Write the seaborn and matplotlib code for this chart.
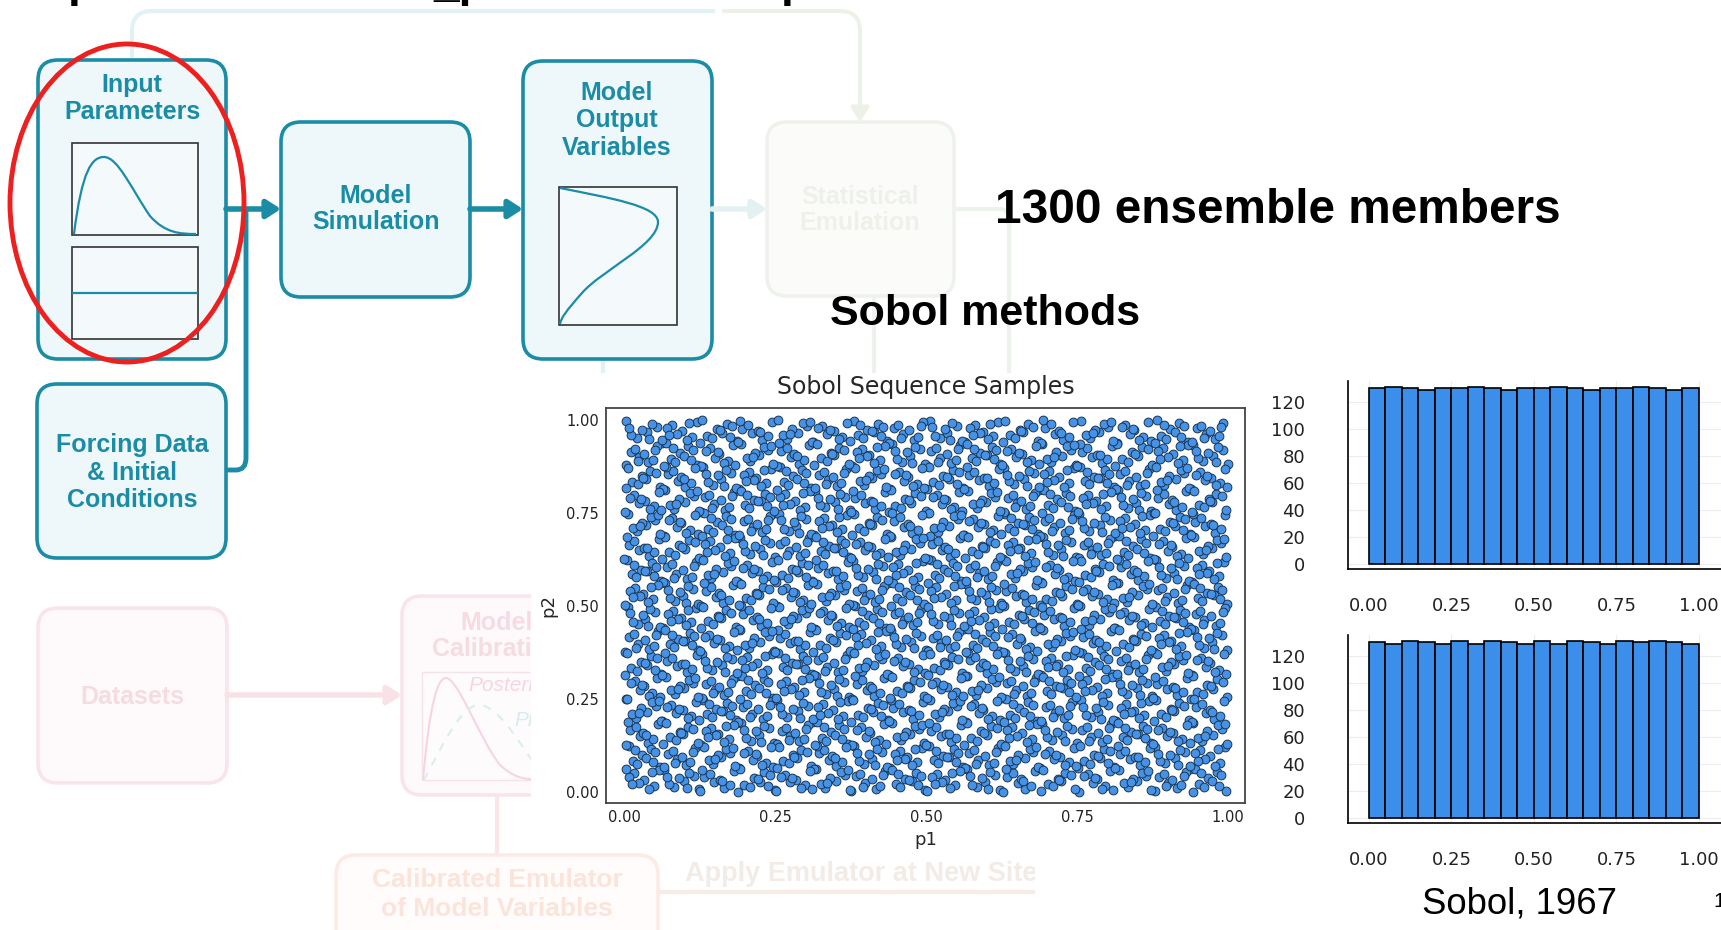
import numpy as np
import pandas as pd
import matplotlib
matplotlib.use("Agg")
import matplotlib.pyplot as plt
import seaborn as sns
from matplotlib.patches import FancyBboxPatch, Rectangle, Ellipse, PathPatch
from matplotlib.path import Path

# ---------------- data ----------------
N_SAMPLES = 2600                     # number of Sobol points shown (20 bins x ~130)
N_BINS = 20
hist_p1_counts = [130, 131, 130, 129, 130, 130, 131, 130, 129, 130,
                  130, 131, 130, 129, 130, 130, 131, 130, 129, 130]
hist_p2_counts = [130, 129, 131, 130, 129, 131, 129, 131, 130, 129,
                  131, 129, 131, 130, 129, 131, 130, 131, 130, 129]
hist_xticks = [0.00, 0.25, 0.50, 0.75, 1.00]
hist_yticks = [0, 20, 40, 60, 80, 100, 120]
scatter_ticks = [0.00, 0.25, 0.50, 0.75, 1.00]
scatter_title = "Sobol Sequence Samples"


def sobol_2d(n):
    """Plain (unscrambled) 2-D Sobol sequence, Gray-code order."""
    bits = 32
    v1 = [1 << (bits - 1 - k) for k in range(bits)]
    v2 = [1 << (bits - 1)]
    for _ in range(1, bits):
        v2.append(v2[-1] ^ (v2[-1] >> 1))
    x = y = 0
    pts = []
    for i in range(n):
        c, j = 0, i
        while j & 1:
            j >>= 1
            c += 1
        x ^= v1[c]
        y ^= v2[c]
        pts.append((x / 2.0 ** 32, y / 2.0 ** 32))
    return np.array(pts)


pts = sobol_2d(N_SAMPLES)
df_pts = pd.DataFrame({"p1": pts[:, 0], "p2": pts[:, 1]})
edges = np.linspace(0, 1, N_BINS + 1)
centers = (edges[:-1] + edges[1:]) / 2

# ---------------- style ----------------
sns.set_theme(style="white")
plt.rcParams["font.family"] = ["DejaVu Sans"]
TF = ["Liberation Sans", "DejaVu Sans"]

W, H = 1721, 930
fig = plt.figure(figsize=(W / 100, H / 100), dpi=100)
fig.patch.set_facecolor("white")
bg = fig.add_axes([0, 0, 1, 1])
bg.set_xlim(0, W)
bg.set_ylim(H, 0)
bg.axis("off")

TEAL = "#1a8ca6"
TEAL_FILL = "#eef7f9"
DIAG_FS = 18


def rbox(x0, y0, x1, y1, ec, fc, lw=2.6, r=20, z=2):
    bg.add_patch(FancyBboxPatch((x0, y0), x1 - x0, y1 - y0,
                                boxstyle=f"round,pad=0,rounding_size={r}",
                                ec=ec, fc=fc, lw=lw, zorder=z))


def label(x, baselines, lines, color, fs=DIAG_FS, ha="center", **kw):
    for yb, s in zip(baselines, lines):
        bg.text(x, yb, s, color=color, fontsize=fs, ha=ha, va="baseline",
                family=TF, fontweight="bold", zorder=6, **kw)


def poly(verts, codes, color, lw=3, z=1, **kw):
    bg.add_patch(PathPatch(Path(verts, codes), fc="none", ec=color, lw=lw,
                           zorder=z, capstyle="butt", **kw))


def arrow(x0, y0, x1, y1, color, lw=4, z=3):
    bg.annotate("", xy=(x1, y1), xytext=(x0, y0),
                arrowprops=dict(arrowstyle="-|>,head_length=0.7,head_width=0.45",
                                lw=lw, color=color, shrinkA=0, shrinkB=0),
                zorder=z)


M, L, C3 = Path.MOVETO, Path.LINETO, Path.CURVE3
C4 = Path.CURVE4

# top connector (faint)
poly([(132, 60), (132, 31), (132, 11), (152, 11), (715, 11)], [M, L, C3, C3, L], "#e2f1f5")
poly([(722, 11), (840, 11), (860, 11), (860, 31), (860, 110)], [M, L, C3, C3, L], "#edf2e8")
arrow(860, 100, 860, 122, "#edf2e8", lw=3)

# main (teal) boxes
rbox(38, 60, 226, 359, TEAL, TEAL_FILL)
label(132, [92, 119], ["Input", "Parameters"], TEAL)
bg.add_patch(Rectangle((72, 143), 126, 92, ec="#333333", fc="#f4fafb", lw=1.2, zorder=3))
bg.add_patch(Rectangle((72, 247), 126, 92, ec="#333333", fc="#f4fafb", lw=1.2, zorder=3))
poly([(74, 234), (82, 170), (92, 157), (104, 157), (118, 157), (132, 190), (150, 216),
      (165, 233), (180, 234), (196, 234)],
     [M, C4, C4, C4, C4, C4, C4, C4, C4, C4], TEAL, lw=1.6, z=4)
poly([(72, 293), (198, 293)], [M, L], TEAL, lw=1.6, z=4)

rbox(281, 122, 470, 297, TEAL, TEAL_FILL)
label(376, [203, 229], ["Model", "Simulation"], TEAL)

rbox(523, 61, 712, 359, TEAL, TEAL_FILL)
label(617, [100, 127.5, 155], ["Model", "Output", "Variables"], TEAL)
bg.add_patch(Rectangle((559, 187), 118, 138, ec="#333333", fc="#f4fafb", lw=1.2, zorder=3))
poly([(560, 188), (610, 198), (658, 206), (658, 222), (658, 245), (602, 270), (582, 293),
      (566, 311), (561, 318), (560, 324)],
     [M, C4, C4, C4, C4, C4, C4, C4, C4, C4], TEAL, lw=1.6, z=4)

rbox(37, 384, 226, 558, TEAL, TEAL_FILL)
label(132, [452, 479.5, 507], ["Forcing Data", "& Initial", "Conditions"], TEAL)
poly([(226, 470), (236, 470), (246, 470), (246, 458), (246, 209)], [M, L, C3, C3, L], TEAL, lw=3.5, z=1)

arrow(226, 209, 281, 209, TEAL)
arrow(470, 209, 523, 209, TEAL)

# red highlight ellipse
bg.add_patch(Ellipse((127, 203), 234, 318, ec="#ee1f1f", fc="none", lw=3.5, zorder=7))

# faint statistical emulation
FAINT_G = "#eef2ec"
arrow(712, 209, 767, 209, "#e3f1f3", lw=4)
poly([(603, 359), (603, 373)], [M, L], "#e3f1f3", lw=3)
rbox(767, 122, 954, 296, FAINT_G, "#fbfcfa")
label(860, [204, 230], ["Statistical", "Emulation"], "#edf1ea")
poly([(954, 209), (999, 209), (1009, 209), (1009, 219), (1009, 380)], [M, L, C3, C3, L], FAINT_G)
poly([(874, 296), (874, 380)], [M, L], FAINT_G)

# faint pink calibration block
PINK_E = "#f9e4e9"
rbox(38, 608, 227, 783, PINK_E, "#fefafb")
label(132, [704], ["Datasets"], "#f6dbe2")
arrow(227, 695, 402, 695, "#f8e2e7", lw=4)
rbox(402, 596, 591, 795, PINK_E, "#fefafb")
label(497, [630, 656], ["Model", "Calibration"], "#f6dbe2")
bg.add_patch(Rectangle((422, 672), 149, 108, ec="#f5e3e7", fc="#fefbfc", lw=1.0, zorder=3))
poly([(423, 780), (430, 700), (438, 678), (446, 678), (458, 678), (480, 740), (500, 765),
      (512, 776), (522, 779), (531, 779)],
     [M, C4, C4, C4, C4, C4, C4, C4, C4, C4], "#f6d6de", lw=1.5, z=4)
poly([(424, 780), (445, 740), (462, 705), (479, 705), (496, 705), (515, 735), (535, 765)],
     [M, C4, C4, C4, C4, C4, C4], "#dcedf1", lw=1.5, z=4, ls=(0, (4, 4)))
bg.text(468, 691, "Posterior", color="#f6d6de", fontsize=15, style="italic", family=TF,
        va="baseline", zorder=6)
bg.text(514, 726, "Prior", color="#d6ecf2", fontsize=15, style="italic", family=TF,
        va="baseline", zorder=6)
poly([(497, 795), (497, 855)], [M, L], "#f9e6e8", lw=3)

# faint calibrated emulator block
rbox(336, 855, 658, 975, "#fcebe4", "#fffcfb")
label(497, [887, 916], ["Calibrated Emulator", "of Model Variables"], "#fbe4da", fs=19)
poly([(658, 892), (1040, 892)], [M, L], "#f7ebe6", lw=3)
label(685, [881], ["Apply Emulator at New Sites"], "#f3ebe5", fs=19.5, ha="left")

# white backgrounds of pasted figures
bg.add_patch(Rectangle((531, 373), W - 531, 852 - 373, fc="white", ec="none", zorder=20))
bg.add_patch(Rectangle((1035, 373), W - 1035, H - 373, fc="white", ec="none", zorder=20))

# top-cut title descenders
for xx, s in [(68, "p"), (433, "_p"), (781, "p")]:
    bg.text(xx, -3.5, s, fontsize=33, fontweight="bold", family=TF, color="black",
            ha="left", va="baseline", zorder=30)

# slide texts
bg.text(995, 223, "1300 ensemble members", fontsize=34.4, fontweight="bold", family=TF,
        color="black", ha="left", va="baseline", zorder=30)
bg.text(830, 325, "Sobol methods", fontsize=31, fontweight="bold", family=TF,
        color="black", ha="left", va="baseline", zorder=30)
bg.text(1520, 913, "Sobol, 1967", fontsize=26.3, family=TF, color="black",
        ha="center", va="baseline", zorder=30)
bg.text(1713, 907, "1", fontsize=15, family=TF, color="black",
        ha="left", va="baseline", zorder=30)

# ---------------- scatter ----------------
ax = fig.add_axes([606 / W, 1 - 803 / H, (1245 - 606) / W, (803 - 408) / H])
sns.scatterplot(data=df_pts, x="p1", y="p2", s=40, color="#4592e6",
                edgecolor="#1b3552", linewidth=0.7, ax=ax, zorder=3)
ax.set_xlim(-0.03, 1.028)
ax.set_ylim(-0.0296, 1.032)
ax.set_xticks(scatter_ticks)
ax.set_yticks(scatter_ticks)
ax.set_xticklabels([f"{t:.2f}" for t in scatter_ticks])
ax.set_yticklabels([f"{t:.2f}" for t in scatter_ticks])
ax.tick_params(direction="in", length=4, width=1, labelsize=10.5, colors="#222222", pad=5)
ax.set_xlabel("p1", fontsize=13, labelpad=4)
ax.set_ylabel("p2", fontsize=13, labelpad=6)
ax.set_title(scatter_title, fontsize=17, pad=10)
for sp in ax.spines.values():
    sp.set_visible(True)
    sp.set_color("#444444")
    sp.set_linewidth(1.3)


# ---------------- histograms ----------------
def hist_axes(y_top, y_bot, counts):
    a = fig.add_axes([1348 / W, 1 - y_bot / H, (W - 1348) / W, (y_bot - y_top) / H])
    dfh = pd.DataFrame({"bin": centers, "count": np.asarray(counts, dtype=float)})
    sns.histplot(data=dfh, x="bin", weights="count", bins=N_BINS, binrange=(0, 1),
                 color="#3b8eea", alpha=1, edgecolor="black", linewidth=1.2, ax=a)
    a.set_xlim(-0.0636, 1.067)
    a.set_ylim(-3.4, 135.3)
    a.set_xticks(hist_xticks)
    a.set_yticks(hist_yticks)
    a.set_xticklabels([f"{t:.2f}" for t in hist_xticks])
    a.set_xlabel("")
    a.set_ylabel("")
    a.grid(True, color="black", alpha=0.07, lw=0.8)
    a.set_axisbelow(True)
    a.tick_params(axis="y", direction="in", length=8, width=1, colors="#555555",
                  labelcolor="#222222", labelsize=13, pad=31)
    a.tick_params(axis="x", direction="in", length=5, width=1, colors="#555555",
                  labelcolor="#222222", labelsize=13, pad=20)
    for side in ("top", "right"):
        a.spines[side].set_visible(False)
    for side in ("left", "bottom"):
        a.spines[side].set_color("black")
        a.spines[side].set_linewidth(1.2)
    return a


hist_axes(381, 569, hist_p1_counts)
hist_axes(635, 823, hist_p2_counts)

fig.savefig("out.png", dpi=100, facecolor="white")
